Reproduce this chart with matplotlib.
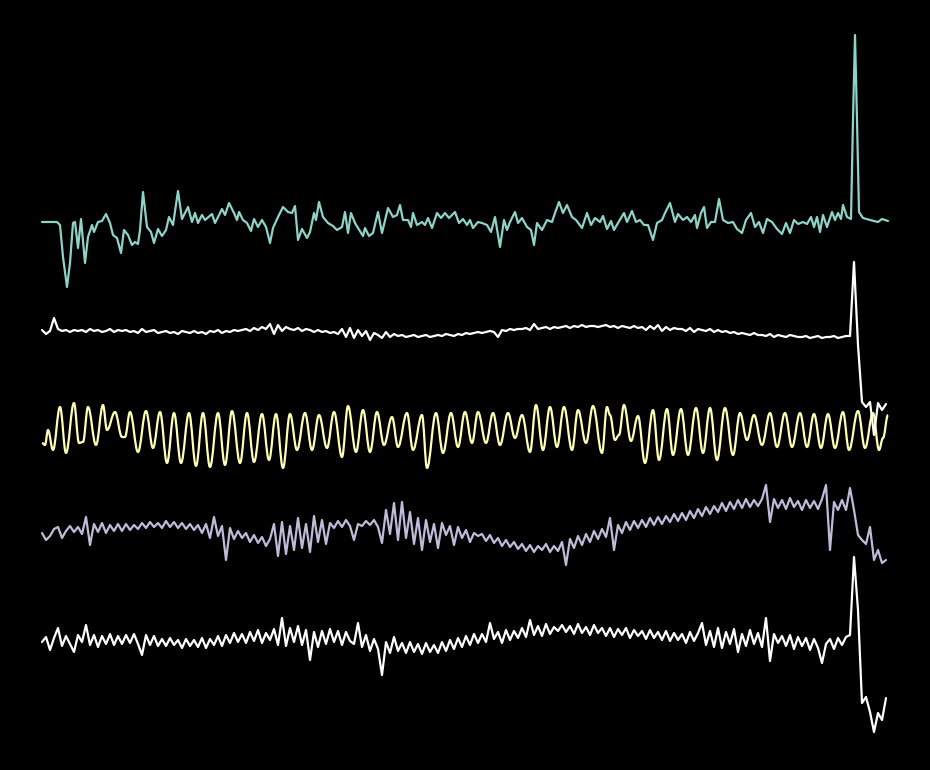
import numpy as np
import matplotlib
matplotlib.use("Agg")
import matplotlib.pyplot as plt
from matplotlib.path import Path
from matplotlib.patches import PathPatch

# ---- data (sample times in samples, amplitudes in arbitrary units) ----
teal_t = [0, 15, 18, 21, 25, 28, 31, 33, 36, 39,
          43, 46, 50, 52, 56, 60, 64, 68, 71, 75,
          79, 82, 86, 90, 93, 96, 98, 101, 105, 109,
          112, 116, 120, 124, 127, 131, 136, 140, 143, 146,
          150, 153, 156, 160, 163, 170, 173, 180, 183, 187,
          192, 195, 197, 201, 205, 209, 212, 216, 220, 224,
          228, 231, 236, 241, 246, 250, 253, 256, 260, 265,
          268, 272, 274, 277, 281, 286, 291, 295, 300, 303,
          306, 309, 313, 316, 321, 323, 327, 331, 336, 340,
          346, 351, 355, 358, 361, 366, 369, 371, 375, 380,
          383, 386, 390, 395, 399, 403, 407, 413, 417, 421,
          425, 428, 431, 436, 440, 445, 449, 453, 458, 462,
          465, 468, 473, 476, 480, 485, 489, 492, 495, 500,
          505, 510, 513, 517, 521, 525, 530, 534, 540, 545,
          549, 553, 558, 561, 565, 569, 572, 576, 582, 585,
          590, 594, 598, 602, 606, 611, 615, 620, 623, 628,
          633, 636, 641, 645, 649, 653, 655, 659, 662, 665,
          669, 673, 677, 681, 686, 691, 695, 700, 704, 709,
          713, 717, 721, 725, 730, 735, 740, 744, 748, 752,
          756, 761, 765, 769, 772, 775, 778, 781, 785, 790,
          793, 796, 799, 801, 805, 809, 811, 813, 815, 817,
          821, 828, 836, 840, 846]
teal_v = [-1, -1, -4, -36, -66, -42, -2, -1, -27, 2,
          -42, -16, -4, -11, -1, 0, 7, -2, -14, -17,
          -32, -9, -14, -24, -21, -23, -9, 29, -6, -11,
          -22, -8, -15, -9, 4, -4, 30, 2, 8, 14,
          -1, 8, -2, 6, 1, 7, -2, 12, 6, 18,
          8, 1, 9, 1, -2, -10, 2, -6, 1, -6,
          -22, -7, 4, 14, 9, 8, 15, -19, -8, -17,
          -11, 8, 1, 19, 4, -2, -5, -9, -6, 9,
          -12, 8, -2, -7, -15, -7, -15, -12, 9, -12,
          13, 4, 6, 16, 1, 1, -6, 8, -4, -1,
          -4, 3, -7, 8, 3, 8, 3, 9, -2, 2,
          -4, 1, -7, -1, -2, -4, -11, 4, -26, 1,
          -9, -1, 9, -2, 3, -6, -9, -24, -2, -9,
          1, -1, 8, 19, 8, 16, 4, 1, -7, 8,
          -4, 3, -1, 5, -8, 0, -9, -2, 8, -1,
          10, -1, 1, -4, -4, -19, -2, 1, 8, 18,
          -1, 7, 1, 4, -1, 6, -7, 8, 14, -7,
          -1, -1, 22, 1, -2, -1, -8, -12, 1, 8,
          -6, -1, -12, 2, -1, -8, -13, -2, -12, 1,
          -3, -1, -3, 4, -6, 4, -11, 6, -6, 9,
          1, 8, 2, 16, 4, 2, 101, 186, 101, 9,
          3, 1, -1, 2, 0]

# yellow channel: successive turning points of the oscillation
yellow_t = [0, 3, 6, 11, 18, 24, 32, 37, 41, 46,
            54, 61, 65, 73, 80, 83, 88, 96, 104, 111,
            118, 125, 132, 139, 147, 154, 161, 168, 176, 183,
            190, 198, 205, 212, 220, 227, 234, 241, 248, 255,
            263, 270, 277, 285, 292, 300, 306, 314, 321, 328,
            335, 342, 350, 356, 365, 371, 380, 385, 394, 401,
            409, 416, 423, 430, 436, 444, 451, 458, 466, 473,
            480, 488, 494, 501, 508, 515, 522, 530, 536, 544,
            551, 560, 565, 568, 573, 577, 582, 589, 596, 603, 611,
            617, 625, 631, 639, 646, 654, 661, 668, 675, 683,
            691, 698, 705, 712, 720, 728, 735, 743, 750, 758,
            765, 772, 779, 786, 793, 801, 807, 816, 823, 831,
            837, 841, 846]
yellow_v = [-6, -8, 7, -13, 30, -16, 34, -6, -5, 30,
            -8, 32, 7, 25, 0, 0, 25, -15, 26, -11,
            25, -26, 24, -26, 24, -29, 24, -30, 24, -28,
            26, -26, 24, -25, 23, -23, 23, -31, 23, -13,
            24, -13, 22, -11, 25, -20, 31, -15, 27, -15,
            25, -8, 20, -10, 24, -13, 22, -31, 24, -16,
            24, -10, 25, -6, 25, -6, 24, -8, 24, -1,
            22, -15, 32, -13, 30, -10, 30, -13, 27, -6,
            31, -16, 30, 22, -3, 2, 32, -4, 21, -26, 27,
            -23, 28, -18, 28, -18, 29, -16, 29, -23, 29,
            -18, 24, -3, 22, -8, 24, -10, 24, -10, 24,
            -10, 23, -11, 23, -11, 25, -13, 26, -11, 24,
            -13, -1, 22]

# uniformly sampled channels (one sample every 4 time units)
white2_v = [2, -2, 1, 14, 3, 1, 2, 0, 2, 1,
            2, 0, 3, 1, 2, 0, 1, 3, 0, 2,
            1, 2, 0, 1, -1, 3, 0, 1, 2, -1,
            0, 1, -1, 0, -2, 1, 0, -1, 1, -1,
            0, -2, 1, 0, 2, -1, 1, 0, 2, 1,
            2, 3, 1, 4, 2, 5, 3, 8, -2, 7,
            1, 5, 3, 2, 4, 1, 3, 2, 0, 2,
            0, 1, -1, 0, -2, 3, -5, 4, -6, 2,
            -4, 1, -8, -1, -3, -6, 0, -5, -2, -4,
            -3, -5, -4, -3, -5, -4, -3, -5, -4, -3,
            -4, -2, -3, -4, -2, -3, -1, -2, -1, 0,
            -1, 0, 1, 0, -5, 2, 1, 3, 2, 3,
            3, 4, 2, 8, 3, 4, 5, 3, 5, 4,
            5, 6, 4, 6, 5, 7, 5, 6, 6, 5,
            6, 7, 5, 6, 4, 6, 5, 4, 6, 4,
            5, 2, 6, 3, 7, 1, 5, 2, 4, 3,
            3, 1, 4, 0, 3, 2, 1, 3, 0, 2,
            0, 1, -1, 0, -2, -1, -2, -3, -1, -3,
            -3, -4, -2, -5, -3, -4, -5, -3, -4, -5,
            -5, -4, -6, -5, -4, -6, -5, -5, -4, -6,
            -5, -4, -4, 70, -13, -70, -75, -70, -103, -71, -78, -72]

lavender_v = [-3, -10, -6, 1, 3, -8, -1, 4, -2, 3,
              -4, 13, -15, 6, -2, 7, -3, 5, -1, 6,
              -1, 6, 0, 5, 1, 7, 2, 8, 3, 7,
              2, 9, 3, 8, 2, 7, 1, 6, 0, 5,
              -3, 6, -8, 13, -6, 4, -30, 2, -9, -1,
              -8, -3, -12, -5, -13, -7, -16, -9, 6, -26,
              8, -24, 4, -20, 12, -18, 6, -22, 14, -12,
              10, -14, 7, 2, 9, 3, 10, 4, -10, 6,
              4, 9, 5, 10, 3, -13, 20, -4, 27, -10,
              28, -8, 18, -14, 12, -20, 10, -12, 6, -18,
              7, -5, 4, -15, 3, -8, 0, -12, -3, -6,
              -4, -11, -5, -13, -8, -16, -10, -17, -12, -19,
              -14, -21, -15, -22, -16, -20, -14, -22, -16, -21,
              -12, -35, -9, -18, -6, -15, -4, -12, -1, -9,
              1, -7, 12, -20, 5, -3, 8, 0, 9, 2,
              10, 3, 12, 5, 13, 6, 14, 8, 16, 9,
              17, 10, 19, 12, 21, 14, 23, 16, 24, 18,
              27, 19, 28, 21, 30, 22, 31, 23, 30, 24,
              31, 45, 8, 31, 22, 30, 21, 32, 23, 29,
              20, 30, 22, 29, 21, 31, 45, -20, 28, 20,
              30, 20, 42, 20, -5, -10, -14, 3, -30, -20, -33, -30]

white5_v = [-2, 3, -10, 2, 12, -6, 4, -4, -12, 5,
            -2, 15, -5, 5, -7, 4, -4, 6, -5, 4,
            -4, 5, -3, 6, -4, -15, 5, -5, 4, -6,
            1, -6, 2, -5, 0, -8, 1, -6, 0, -7,
            2, -8, 1, -5, 4, -6, 5, -3, 7, -2,
            6, -3, 8, -1, 10, -3, 7, 0, 11, -5,
            22, -6, 12, -2, 14, -5, 10, -20, 8, -7,
            9, -4, 11, -2, 9, -5, 8, -1, -4, 17,
            -7, 5, -11, 1, -9, -35, -2, -13, 3, -11,
            -3, -13, -2, -12, -4, -14, -3, -12, -5, -13,
            -2, -11, 0, -9, 2, -7, 4, -5, 6, -3,
            6, -2, 17, 1, 8, -3, 10, 0, 9, 2,
            12, 3, 20, 5, 14, 4, 16, 6, 13, 9,
            15, 8, 14, 6, 16, 7, 13, 5, 15, 7,
            12, 4, 12, 3, 11, 5, 12, 2, 10, 4,
            9, 1, 10, 2, 8, 0, 9, -1, 7, 0,
            6, -3, 8, -1, 7, 17, -5, 9, -7, 12,
            -8, 8, -4, 11, -12, 6, -6, 10, -4, 7,
            -7, 22, -21, 6, -3, 4, -6, 5, -9, 3,
            -6, 2, -10, 1, -8, -23, -4, 1, -9, 2,
            -5, 3, 5, 83, 30, -63, -57, -72, -92, -73, -80, -58]

SAMPLE_STEP = 4

# ---- figure ----
fig = plt.figure(figsize=(9.3, 7.7), dpi=100, facecolor="black")
ax = fig.add_axes([0, 0, 1, 1])
ax.set_facecolor("black")
ax.set_axis_off()

offsets = {"teal": 549, "white2": 438, "yellow": 333, "lavender": 240, "white5": 130}
lw = 1.6
kw = dict(lw=lw, solid_joinstyle="round", solid_capstyle="round")


def smooth_path(xs, ys, k=0.38):
    """Cubic Bezier path through turning points with flat tangents."""
    verts = [(xs[0], ys[0])]
    codes = [Path.MOVETO]
    for i in range(1, len(xs)):
        dx = xs[i] - xs[i - 1]
        verts += [(xs[i - 1] + k * dx, ys[i - 1]), (xs[i] - k * dx, ys[i]), (xs[i], ys[i])]
        codes += [Path.CURVE4, Path.CURVE4, Path.CURVE4]
    return Path(verts, codes)


t_uniform = np.arange(len(white2_v)) * SAMPLE_STEP

ax.plot(teal_t, np.array(teal_v) + offsets["teal"], color="#8dd3c7", **kw)
ax.plot(t_uniform, np.array(white2_v) + offsets["white2"], color="#ffffff", **kw)
ax.add_patch(PathPatch(smooth_path(yellow_t, list(np.array(yellow_v) + offsets["yellow"])),
                       facecolor="none", edgecolor="#feffb3", lw=lw, joinstyle="round"))
ax.plot(np.arange(len(lavender_v)) * SAMPLE_STEP, np.array(lavender_v) + offsets["lavender"],
        color="#bfbbd9", **kw)
ax.plot(np.arange(len(white5_v)) * SAMPLE_STEP, np.array(white5_v) + offsets["white5"],
        color="#ffffff", **kw)

ax.set_xlim(-42, 888)
ax.set_ylim(0, 770)

fig.savefig("out.png", dpi=100, facecolor="black")
